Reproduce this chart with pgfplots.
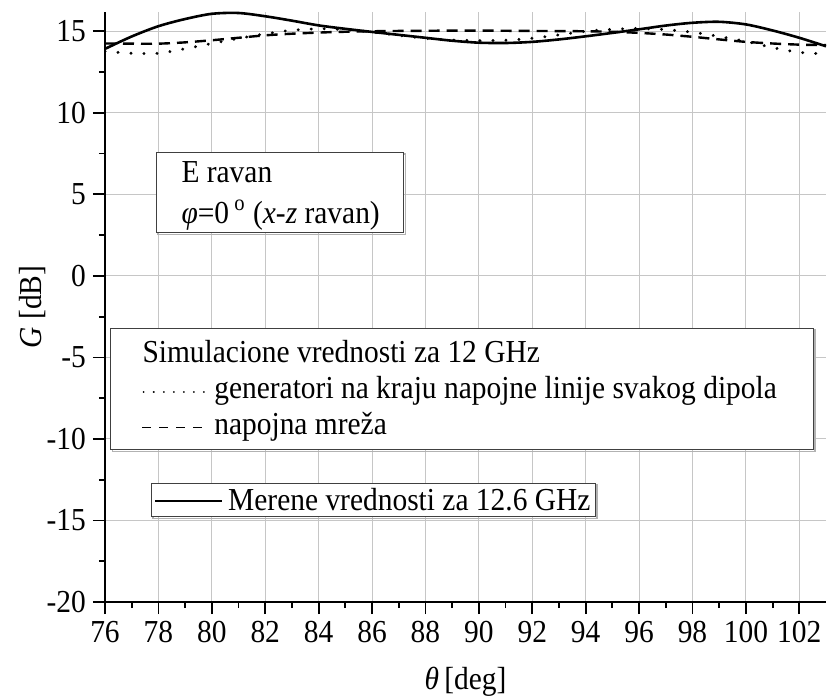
\documentclass[border=0pt]{standalone}
\usepackage{fontspec}
\setmainfont{Liberation Serif}[FakeStretch=0.92]
\usepackage{pgfplots}
\usepackage{pgfplotstable}
\pgfplotsset{compat=1.18}
\newcommand\fs{\fontsize{16}{19}\selectfont}

% measured, 12.6 GHz
\pgfplotstableread{
th G
76 13.92
77 14.68
78 15.31
79 15.75
80 16.07
81 16.12
82 15.92
83 15.65
84 15.36
85 15.15
86 14.96
87 14.78
88 14.60
89 14.42
90 14.30
91 14.28
92 14.35
93 14.50
94 14.69
95 14.90
96 15.12
97 15.35
98 15.52
99 15.58
100 15.42
101 15.05
102 14.60
103 14.08
}\merene

% simulation, feed network
\pgfplotstableread{
th G
76 14.25
77 14.24
78 14.24
79 14.32
80 14.45
81 14.60
82 14.75
83 14.85
84 14.92
85 14.97
86 15.00
87 15.02
88 15.03
89 15.04
90 15.04
91 15.03
92 15.02
93 15.01
94 15.00
95 14.97
96 14.90
97 14.80
98 14.66
99 14.50
100 14.35
101 14.25
102 14.18
103 14.15
}\mreza

% simulation, generators at end of each dipole line
\pgfplotstableread{
th G
76 13.77
77 13.65
78 13.65
79 13.93
80 14.25
81 14.56
82 14.84
83 15.06
84 15.15
85 15.10
86 14.95
87 14.75
88 14.57
89 14.46
90 14.43
91 14.45
92 14.57
93 14.78
94 15.00
95 15.12
96 15.17
97 15.10
98 14.94
99 14.68
100 14.38
101 14.00
102 13.71
103 13.61
}\generatori

\begin{document}
\begin{tikzpicture}
\begin{axis}[
  name=ax, scale only axis, width=360.5pt, height=295.15pt,
  xmin=76, xmax=103, ymin=-20, ymax=16.2,
  axis x line*=bottom, axis y line*=left,
  axis line style={line width=1.1pt},
  xtick={76,78,...,102}, minor x tick num=1,
  ytick={-20,-15,...,15}, yticklabels={-20,-15,-10,-5,0,5,10,15},
  minor y tick num=1,
  tick align=outside, major tick length=6pt, minor tick length=3pt,
  tick style={black, line width=0.9pt},
  grid=major, major grid style={gray!45, line width=0.5pt},
  tick label style={font=\fs},
  /pgf/number format/assume math mode=true,
  xlabel={\textit{θ}\,[deg]}, ylabel={\textit{G} [dB]},
  label style={font=\fs},
  xlabel style={at={(axis description cs:0.5,-0.1355)}, anchor=center},
  ylabel style={at={(axis description cs:-0.1,0.5)}, anchor=center},
]
\addplot[black, line width=1.2pt, dash pattern=on 5.5pt off 3.5pt, smooth] table[x=th, y=G] {\mreza};
\addplot[black, line width=1.6pt, line cap=round, dash pattern=on 0.01pt off 6.5pt, smooth] table[x=th, y=G] {\generatori};
\addplot[black, line width=1.3pt, smooth] table[x=th, y=G] {\merene};

% box: E ravan
\draw[gray!60, line width=0.8pt] ([xshift=0.8pt,yshift=-0.8pt]axis cs:77.93,7.58) rectangle ([xshift=0.8pt,yshift=-0.8pt]axis cs:87.19,2.63);
\draw[black!75, fill=white, line width=0.5pt] (axis cs:77.93,7.58) rectangle (axis cs:87.19,2.63);
\node[anchor=base west, inner sep=0, font=\fs] at (axis cs:78.85,5.7) {E ravan};
\node[anchor=base west, inner sep=0, font=\fs] at (axis cs:78.85,3.24)
  {\textit{φ}=0\,\textsuperscript{o} (\textit{x}-\textit{z} ravan)};

% box: simulation legend
\draw[gray!60, line width=0.8pt] ([xshift=0.8pt,yshift=-0.8pt]axis cs:76.22,-3.21) rectangle ([xshift=0.8pt,yshift=-0.8pt]axis cs:102.52,-10.67);
\draw[black!75, fill=white, line width=0.5pt] (axis cs:76.22,-3.21) rectangle (axis cs:102.52,-10.67);
\node[anchor=base west, inner sep=0, font=\fs] at (axis cs:77.39,-5.31) {Simulacione vrednosti za 12 GHz};
\draw[black, line width=1pt, line cap=round, dash pattern=on 0.01pt off 5pt] (axis cs:77.45,-7.12) -- (axis cs:79.82,-7.12);
\node[anchor=base west, inner sep=0, font=\fs] at (axis cs:80.08,-7.5) {generatori na kraju napojne linije svakog dipola};
\draw[black, line width=0.8pt, dash pattern=on 4.5pt off 4pt] (axis cs:77.39,-9.3) -- (axis cs:79.85,-9.3);
\node[anchor=base west, inner sep=0, font=\fs] at (axis cs:80.08,-9.74) {napojna mreža};

% box: measured legend
\draw[gray!60, line width=0.8pt] ([xshift=0.8pt,yshift=-0.8pt]axis cs:77.74,-12.72) rectangle ([xshift=0.8pt,yshift=-0.8pt]axis cs:94.37,-14.77);
\draw[black!75, fill=white, line width=0.5pt] (axis cs:77.74,-12.72) rectangle (axis cs:94.37,-14.77);
\draw[black, line width=0.9pt] (axis cs:77.88,-13.81) -- (axis cs:80.38,-13.81);
\node[anchor=base west, inner sep=0, font=\fs] at (axis cs:80.6,-14.38) {Merene vrednosti za 12.6 GHz};
\end{axis}
\pgfresetboundingbox
\path ([xshift=-52.5pt,yshift=-48.5pt]ax.south west) rectangle ([xshift=0.5pt,yshift=5.85pt]ax.north east);
\end{tikzpicture}
\end{document}
